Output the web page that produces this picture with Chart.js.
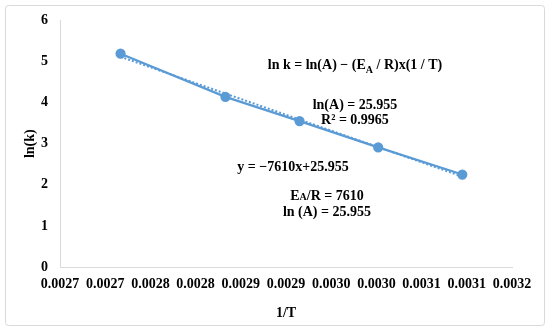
<!DOCTYPE html>
<html>
<head>
<meta charset="utf-8">
<script src="https://cdn.jsdelivr.net/npm/chart.js@4.4.1/dist/chart.umd.min.js"></script>
<style>
html,body{margin:0;padding:0;background:#fff;}
#wrap{width:550px;height:331px;position:relative;}
</style>
</head>
<body>
<div id="wrap"><canvas id="c" width="550" height="331"></canvas></div>
<script>
// ---- data ----
const invT = [0.002767, 0.002883, 0.002965, 0.003052, 0.003145];
const lnK  = [5.19, 4.14, 3.55, 2.91, 2.25];
const xTickLabels = ['0.0027','0.0027','0.0028','0.0028','0.0029','0.0029','0.0030','0.0030','0.0031','0.0031','0.0032'];
const yTickLabels = ['0','1','2','3','4','5','6'];
const xTitle = '1/T';
const yTitle = 'ln(k)';

// least-squares trendline through the data (Excel linear trendline)
const n = invT.length;
const mx = invT.reduce((a,b)=>a+b,0)/n, my = lnK.reduce((a,b)=>a+b,0)/n;
let sxy=0, sxx=0;
for (let i=0;i<n;i++){ sxy+=(invT[i]-mx)*(lnK[i]-my); sxx+=(invT[i]-mx)**2; }
const slope = sxy/sxx, icpt = my - slope*mx;
const trend = [invT[0], invT[n-1]].map(x=>({x, y: icpt + slope*x}));

const FONT = "'Liberation Serif', 'Times New Roman', serif";
const BLUE = '#5b9bd5';

// annotation texts, anchored in data coordinates
const notes = [
  {x:0.0030263, y:4.91, parts:[['ln k = ln(A) \u2212 (E',0],['A',1],[' / R)x(1 / T)',0]]},
  {x:0.0030263, y:3.93, parts:[['ln(A) = 25.955',0]]},
  {x:0.0030263, y:3.57, parts:[['R\u00B2 = 0.9965',0]]},
  {x:0.0029577, y:2.43, parts:[['y = \u22127610x+25.955',0]]},
  {x:0.0029953, y:1.72, parts:[['E',0],['A',2],['/R = 7610',0]]},
  {x:0.0029953, y:1.34, parts:[['ln (A) = 25.955',0]]}
];

const frame = {
  id:'frame',
  beforeDraw(chart){
    const ctx = chart.ctx;
    ctx.save();
    ctx.fillStyle = '#fff';
    ctx.fillRect(0,0,chart.width,chart.height);
    ctx.strokeStyle = '#d9d9d9';
    ctx.lineWidth = 1;
    ctx.beginPath();
    ctx.roundRect(5.5,5.5,539,320,3);
    ctx.stroke();
    ctx.restore();
  },
  afterDraw(chart){
    const ctx = chart.ctx, xs = chart.scales.x, ys = chart.scales.y;
    ctx.save();
    ctx.fillStyle = '#000';
    ctx.textBaseline = 'middle';
    notes.forEach(nt=>{
      const fonts = nt.parts.map(p => p[1]===0 ? 'bold 14px '+FONT : 'bold 10px '+FONT);
      let w = 0;
      nt.parts.forEach((p,i)=>{ ctx.font = fonts[i]; w += ctx.measureText(p[0]).width; });
      let px = xs.getPixelForValue(nt.x) - w/2;
      const py = ys.getPixelForValue(nt.y);
      ctx.textAlign = 'left';
      nt.parts.forEach((p,i)=>{
        ctx.font = fonts[i];
        const dy = p[1]===1 ? 5 : (p[1]===2 ? 1.5 : 0);
        ctx.fillText(p[0], px, py+dy);
        px += ctx.measureText(p[0]).width;
      });
    });
    ctx.restore();
  }
};

new Chart(document.getElementById('c'), {
  type:'scatter',
  data:{
    datasets:[
      {
        data: invT.map((x,i)=>({x, y:lnK[i]})),
        showLine:true,
        borderColor:BLUE, backgroundColor:BLUE,
        borderWidth:2.25, pointRadius:4, pointHoverRadius:4,
        order:1
      },
      {
        data: trend,
        showLine:true,
        borderColor:BLUE, borderWidth:2, borderDash:[2,2],
        pointRadius:0, order:2
      }
    ]
  },
  options:{
    responsive:false, animation:false,
    layout:{padding:{left:0, right:38, top:20, bottom:0}},
    plugins:{legend:{display:false}, tooltip:{enabled:false}},
    scales:{
      x:{
        type:'linear', min:0.0027, max:0.0032,
        afterFit(s){ s.height = 64; },
        afterBuildTicks(s){ s.ticks = xTickLabels.map((l,i)=>({value: 0.0027 + i*0.00005})); },
        grid:{display:false, drawTicks:false},
        border:{display:true, color:'#d9d9d9', width:1},
        ticks:{color:'#000', font:{family:FONT, size:14, weight:'bold'}, padding:9, maxRotation:0, autoSkip:false,
          callback:(v,i)=>xTickLabels[i]},
        title:{display:true, text:xTitle, color:'#000', font:{family:FONT, size:14, weight:'bold'}, padding:{top:0,bottom:9}}
      },
      y:{
        type:'linear', min:0, max:6,
        afterFit(s){ s.width = 60; },
        grid:{display:false, drawTicks:false},
        border:{display:true, color:'#d9d9d9', width:1},
        ticks:{stepSize:1, color:'#000', font:{family:FONT, size:14, weight:'bold'}, padding:12,
          callback:(v,i)=>yTickLabels[i]},
        title:{display:true, text:yTitle, color:'#000', font:{family:FONT, size:14, weight:'bold'}, padding:{top:22,bottom:0}}
      }
    }
  },
  plugins:[frame]
});
</script>
</body>
</html>
